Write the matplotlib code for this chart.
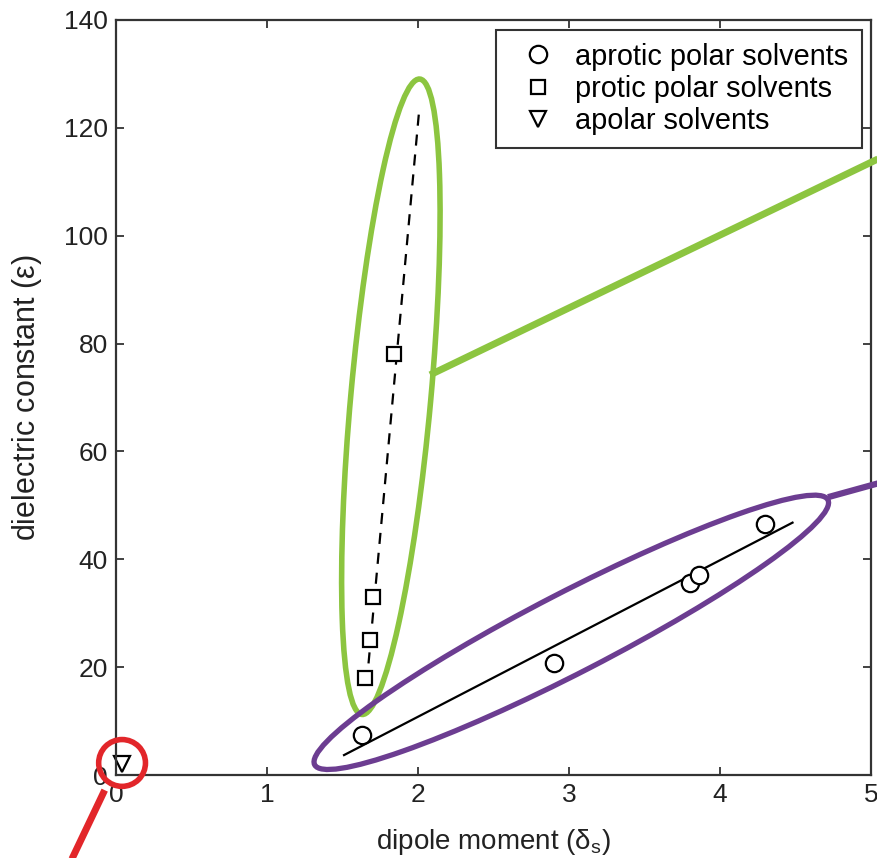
import numpy as np
import matplotlib
matplotlib.use("Agg")
import matplotlib.pyplot as plt
from matplotlib.patches import Ellipse

plt.rcParams['font.family'] = ['Liberation Sans', 'DejaVu Sans']

# aprotic polar solvents (circles)
aprotic_x = [1.63, 2.90, 3.80, 3.86, 4.30]
aprotic_y = [7.5, 20.8, 35.6, 37.0, 46.5]
# protic polar solvents (squares)
protic_x = [1.65, 1.68, 1.70, 1.84]
protic_y = [18.0, 25.0, 33.0, 78.0]
# apolar solvents (triangle)
apolar_x = [0.04]
apolar_y = [2.0]

# trend lines
aprotic_fit_x = [1.51, 4.48]
aprotic_fit_y = [3.7, 46.8]
protic_fit_x = [1.66, 2.01]
protic_fit_y = [17.0, 124.0]

green = '#8CC540'
purple = '#6C3D91'
red = '#E2262A'
spine_col = '#333333'
text_col = '#222222'

fig = plt.figure(figsize=(8.77, 8.58), dpi=100)
ax = fig.add_axes([0.1323, 0.0967, 0.8609, 0.88])

ax.plot(aprotic_fit_x, aprotic_fit_y, color='black', lw=1.6)
ax.plot(protic_fit_x, protic_fit_y, color='black', lw=1.6, dashes=(5, 4))

ax.plot(aprotic_x, aprotic_y, 'o', ms=12.5, mfc='white', mec='black', mew=1.6,
        label='aprotic polar solvents')
ax.plot(protic_x, protic_y, 's', ms=10.5, mfc='white', mec='black', mew=1.6,
        label='protic polar solvents')
ax.plot(apolar_x, apolar_y, 'v', ms=12, mfc='white', mec='black', mew=1.6,
        label='apolar solvents', clip_on=False)

ax.set_xlim(0, 5)
ax.set_ylim(0, 140)
ax.set_xticks([0, 1, 2, 3, 4, 5])
ax.set_yticks([0, 20, 40, 60, 80, 100, 120, 140])
ax.tick_params(direction='in', length=6, width=1.3, colors=spine_col,
               labelcolor=text_col, labelsize=19, top=True, right=True, pad=6)
for spine in ax.spines.values():
    spine.set_linewidth(1.6)
    spine.set_color(spine_col)

ax.set_xlabel(r'dipole moment ($\mathregular{\delta_s}$)', fontsize=20, color=text_col, labelpad=14)
ax.set_ylabel(r'dielectric constant ($\mathregular{\varepsilon}$)', fontsize=22, color=text_col, labelpad=14)

leg = ax.legend(loc='upper right', fontsize=20.8, frameon=True, fancybox=False,
                handlelength=2.0, handletextpad=0.3, borderaxespad=0.33,
                labelspacing=0.15, borderpad=0.45)
leg.get_frame().set_edgecolor('black')
leg.get_frame().set_linewidth(1.5)

# highlight overlays (axes fraction coordinates, axes is square on screen)
ax.add_patch(Ellipse((0.364, 0.501), 0.845, 0.106, angle=84.8, fill=False,
                     ec=green, lw=4, transform=ax.transAxes, clip_on=False, zorder=5))
ax.plot([0.416, 1.03], [0.530, 0.826], color=green, lw=5, transform=ax.transAxes,
        clip_on=False, zorder=5, solid_capstyle='butt')

ax.add_patch(Ellipse((0.603, 0.189), 0.765, 0.106, angle=27.3, fill=False,
                     ec=purple, lw=3.8, transform=ax.transAxes, clip_on=False, zorder=5))
ax.plot([0.943, 1.03], [0.368, 0.392], color=purple, lw=4.5, transform=ax.transAxes,
        clip_on=False, zorder=5, solid_capstyle='butt')

ax.add_patch(Ellipse((0.008, 0.016), 0.062, 0.062, fill=False,
                     ec=red, lw=4, transform=ax.transAxes, clip_on=False, zorder=5))
ax.plot([-0.015, -0.065], [-0.020, -0.125], color=red, lw=5, transform=ax.transAxes,
        clip_on=False, zorder=5, solid_capstyle='butt')

fig.savefig('out.png', dpi=100)
